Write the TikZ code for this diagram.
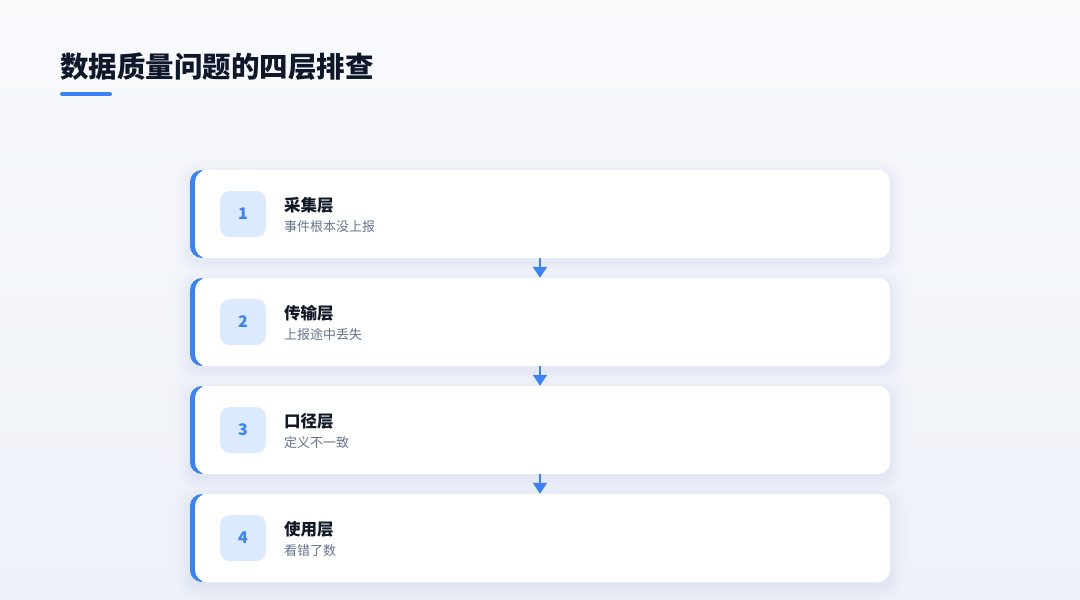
\documentclass[tikz,border=0pt]{standalone}
\usepackage{fontspec}
\setmainfont{Noto Sans CJK SC}
\usetikzlibrary{arrows.meta}
\definecolor{accent}{HTML}{3B82F6}
\definecolor{badgebg}{HTML}{DBEAFE}
\definecolor{titlec}{HTML}{0F172A}
\definecolor{headc}{HTML}{111827}
\definecolor{subc}{HTML}{64748B}
\definecolor{bgtop}{HTML}{F8FAFC}
\definecolor{bgbot}{HTML}{EEF1F8}
\definecolor{shadowtint}{HTML}{8E9DD8}
\tikzset{
  card/.style={fill=white, rounded corners=12pt, minimum width=695pt, minimum height=88pt, inner sep=0pt},
  badge/.style={fill=badgebg, rounded corners=10pt, minimum width=46pt, minimum height=46pt, inner sep=0pt,
    text=accent, font=\fontsize{16}{18}\selectfont\bfseries},
  head/.style={anchor=west, inner sep=0pt, text=headc, font=\fontsize{16.5}{19}\selectfont\bfseries},
  sub/.style={anchor=west, inner sep=0pt, text=subc, font=\fontsize{13}{15}\selectfont},
  flow/.style={accent, line width=2pt, -{Triangle[width=14pt,length=11pt]}}
}
\begin{document}
\begin{tikzpicture}[x=1pt,y=-1pt]
\shade[top color=bgtop, bottom color=bgbot] (0,0) rectangle (1080,600);
\useasboundingbox (0,0) rectangle (1080,600);
% title
\node[anchor=west, inner sep=0pt, text=titlec, font=\fontsize{28.5}{32}\selectfont\bfseries] (title) at (60,67) {数据质量问题的四层排查};
\draw[accent, line width=4pt, line cap=round] (62,94) -- (110,94);
% shadows (solid layers, outer first)
\foreach \k in {14,...,1}{
  \pgfmathsetmacro{\p}{14*((15-\k)/14)^2}
  \foreach \y in {214,322,430,538}{
    \pgfmathsetmacro{\t}{\y/6}
    \colorlet{locbg}{bgbot!\t!bgtop}
    \fill[fill=shadowtint!\p!locbg, rounded corners=12pt+\k pt] (190-\k*1.5,\y-44-\k*1.5+5) rectangle (890+\k*1.5,\y+44+\k*1.5+5);
  }
}
% cards
\foreach \i/\y/\h/\s in {1/214/采集层/事件根本没上报, 2/322/传输层/上报途中丢失, 3/430/口径层/定义不一致, 4/538/使用层/看错了数}{
  \begin{scope}
    \clip (189,\y-45) rectangle (202,\y+45);
    \fill[accent, rounded corners=12pt] (190,\y-44) rectangle (890,\y+44);
  \end{scope}
  \node[card] (c\i) at (542.5,\y) {};
  \node[badge] (b\i) at (243,\y) {\i};
  \node[head] (h\i) at (284,\y-9) {\h};
  \node[sub] (s\i) at (284,\y+13) {\s};
}
\foreach \a/\b in {1/2, 2/3, 3/4}{
  \draw[flow] (c\a.south -| 540,0) -- (c\b.north -| 540,0);
}
\end{tikzpicture}
\end{document}
